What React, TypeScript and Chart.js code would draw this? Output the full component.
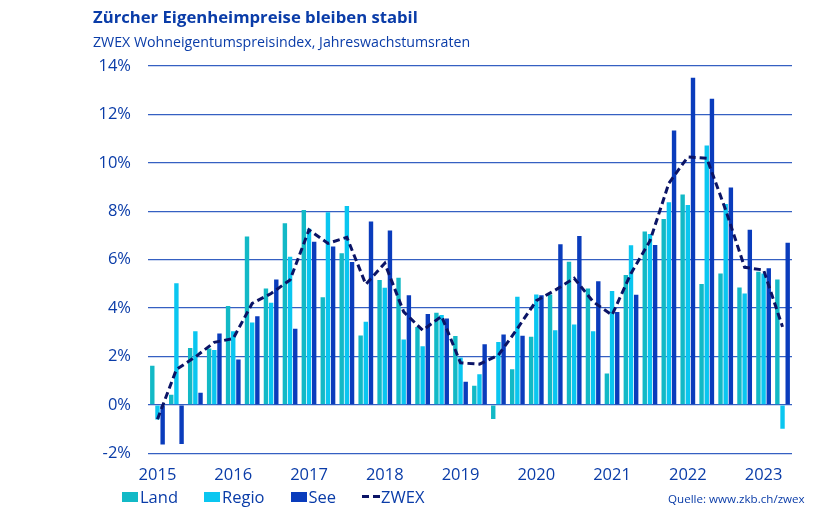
import { useEffect, useRef } from "react"
import { Chart, registerables } from "chart.js"

Chart.register(...registerables)

// Quarterly data, 2015 Q1 to 2023 Q2 (annual growth rates in %)
const years = ["2015", "2016", "2017", "2018", "2019", "2020", "2021", "2022", "2023"]
const quarters = years.flatMap((y) => ["Q1", "Q2", "Q3", "Q4"].map((q) => `${y} ${q}`)).slice(0, 34)

const land = [1.61, 0.42, 2.35, 2.33, 4.08, 6.95, 4.81, 7.5, 8.05, 4.44, 6.26, 2.86, 5.16, 5.25, 3.22, 3.8, 2.84, 0.79, -0.59, 1.47, 2.81, 4.56, 5.91, 4.81, 1.29, 5.36, 7.16, 7.68, 8.69, 4.99, 5.43, 4.85, 5.5, 5.18]
const regio = [-0.61, 5.02, 3.04, 2.26, 3.04, 3.4, 4.22, 6.12, 7.27, 7.96, 8.22, 3.43, 4.84, 2.7, 2.42, 3.71, 1.95, 1.26, 2.6, 4.46, 4.56, 3.08, 3.32, 3.04, 4.7, 6.59, 7.06, 8.37, 8.26, 10.72, 8.3, 4.6, 5.43, -0.99]
const see = [-1.64, -1.62, 0.5, 2.95, 1.87, 3.66, 5.18, 3.14, 6.74, 6.54, 5.9, 7.57, 7.2, 4.53, 3.75, 3.57, 0.95, 2.5, 2.91, 2.85, 4.53, 6.63, 6.98, 5.11, 3.83, 4.55, 6.6, 11.33, 13.51, 12.65, 8.98, 7.23, 5.64, 6.7]
const zwex = [-0.6, 1.46, 1.98, 2.58, 2.74, 4.19, 4.6, 5.16, 7.23, 6.67, 6.92, 4.98, 5.85, 3.84, 3.08, 3.66, 1.73, 1.68, 2.05, 3.15, 4.3, 4.74, 5.23, 4.26, 3.71, 5.43, 6.77, 9.16, 10.24, 10.19, 8.05, 5.68, 5.57, 3.22]

const COLORS = {
    land: "#12b9c6",
    regio: "#0ac6f0",
    see: "#0a3cbc",
    zwex: "#0b1466",
    text: "#0a3ca8",
    grid: "#3560c2",
}

const FONT = "'Open Sans', 'Noto Sans', sans-serif"

function LegendItem({ label, color, dashed }: { label: string; color: string; dashed?: boolean }) {
    return (
        <div style={{ display: "flex", alignItems: "center", marginRight: 26 }}>
            {dashed ? (
                <span style={{ display: "flex", width: 18, justifyContent: "space-between", marginRight: 1 }}>
                    <span style={{ width: 7, height: 3, background: color }} />
                    <span style={{ width: 7, height: 3, background: color }} />
                </span>
            ) : (
                <span style={{ width: 16, height: 10, background: color, marginRight: 2 }} />
            )}
            <span>{label}</span>
        </div>
    )
}

export default function App() {
    const chartRef = useRef<HTMLCanvasElement>(null)
    const chartInstance = useRef<Chart | null>(null)

    useEffect(() => {
        document.body.style.margin = "0"
        if (!chartRef.current) return
        if (chartInstance.current) chartInstance.current.destroy()

        const ctx = chartRef.current.getContext("2d")
        if (!ctx) return

        chartInstance.current = new Chart(ctx, {
            type: "bar",
            data: {
                labels: quarters,
                datasets: [
                    {
                        type: "line",
                        label: "ZWEX",
                        data: zwex,
                        borderColor: COLORS.zwex,
                        borderWidth: 3,
                        borderDash: [7, 4],
                        pointRadius: 0,
                        tension: 0,
                        fill: false,
                        order: 0,
                    },
                    { label: "Land", data: land, backgroundColor: COLORS.land, order: 1 },
                    { label: "Regio", data: regio, backgroundColor: COLORS.regio, order: 1 },
                    { label: "See", data: see, backgroundColor: COLORS.see, order: 1 },
                ],
            },
            options: {
                animation: false,
                responsive: false,
                maintainAspectRatio: false,
                datasets: {
                    bar: { categoryPercentage: 0.82, barPercentage: 0.85 },
                },
                layout: { padding: { left: 93, right: 33, top: 66, bottom: 22 } },
                plugins: {
                    legend: { display: false },
                    tooltip: { enabled: false },
                },
                scales: {
                    x: {
                        grid: { display: false, drawTicks: false },
                        border: { display: false },
                        ticks: {
                            autoSkip: false,
                            maxRotation: 0,
                            padding: 12,
                            color: COLORS.text,
                            font: { family: FONT, size: 16.5 },
                            callback: (_v, i) => (i % 4 === 0 ? years[i / 4] : ""),
                        },
                    },
                    y: {
                        min: -2,
                        max: 14,
                        afterFit: (scale) => {
                            scale.width = 55
                        },
                        grid: { color: COLORS.grid, lineWidth: 1.3, drawTicks: false },
                        border: { display: false },
                        ticks: {
                            stepSize: 2,
                            padding: 17,
                            color: COLORS.text,
                            font: { family: FONT, size: 16.5 },
                            callback: (v) => `${v}%`,
                        },
                    },
                },
            },
        })

        return () => {
            if (chartInstance.current) {
                chartInstance.current.destroy()
                chartInstance.current = null
            }
        }
    }, [])

    return (
        <div style={{ position: "relative", width: 825, height: 519, fontFamily: FONT, color: COLORS.text, overflow: "hidden", background: "#fff" }}>
            <canvas ref={chartRef} width={825} height={519} style={{ position: "absolute", left: 0, top: 0 }} />
            <div style={{ position: "absolute", left: 93, top: 5, fontSize: 16.7, fontWeight: 700, whiteSpace: "nowrap" }}>
                Zürcher Eigenheimpreise bleiben stabil
            </div>
            <div style={{ position: "absolute", left: 93, top: 32, fontSize: 14.2, whiteSpace: "nowrap" }}>
                ZWEX Wohneigentumspreisindex, Jahreswachstumsraten
            </div>
            <div style={{ position: "absolute", left: 122, top: 485, display: "flex", fontSize: 16.5 }}>
                <LegendItem label="Land" color={COLORS.land} />
                <LegendItem label="Regio" color={COLORS.regio} />
                <LegendItem label="See" color={COLORS.see} />
                <LegendItem label="ZWEX" color={COLORS.zwex} dashed />
            </div>
            <div style={{ position: "absolute", left: 668, top: 491, fontSize: 11.6, whiteSpace: "nowrap" }}>
                Quelle: www.zkb.ch/zwex
            </div>
        </div>
    )
}
